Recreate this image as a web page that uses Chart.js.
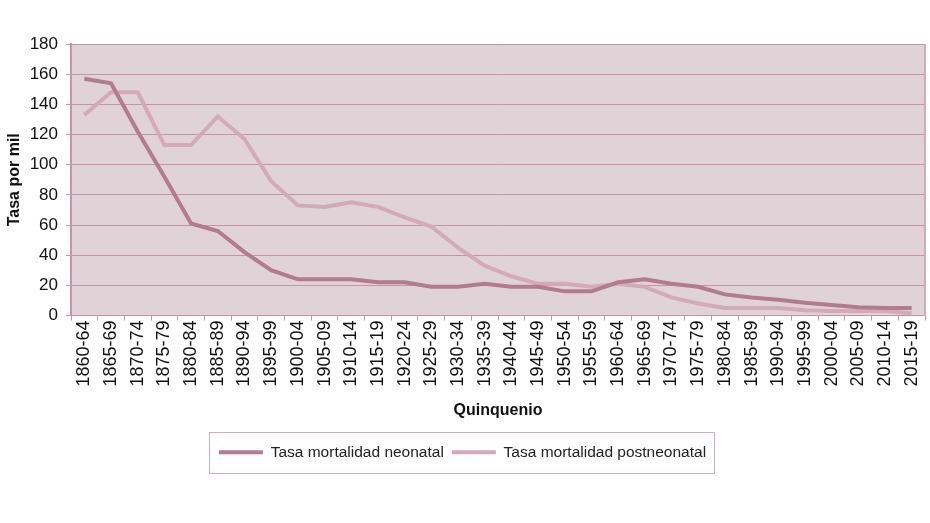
<!DOCTYPE html>
<html>
<head>
<meta charset="utf-8">
<script src="https://cdn.jsdelivr.net/npm/chart.js@4.4.0/dist/chart.umd.min.js"></script>
<style>
  html, body { margin: 0; padding: 0; background: #fff; }
  #wrap { width: 930px; height: 523px; }
</style>
</head>
<body>
<div id="wrap"><canvas id="chart"></canvas></div>
<script>
const quinquenios = [
    "1860-64", "1865-69", "1870-74", "1875-79", "1880-84", "1885-89",
    "1890-94", "1895-99", "1900-04", "1905-09", "1910-14", "1915-19",
    "1920-24", "1925-29", "1930-34", "1935-39", "1940-44", "1945-49",
    "1950-54", "1955-59", "1960-64", "1965-69", "1970-74", "1975-79",
    "1980-84", "1985-89", "1990-94", "1995-99", "2000-04", "2005-09",
    "2010-14", "2015-19"
];

const neonatal = [
    157, 154, 122, 92, 61, 56, 42, 30, 24, 24, 24, 22,
    22, 19, 19, 21, 19, 19, 16, 16, 22, 24, 21, 19,
    14, 12, 10.5, 8.5, 7, 5.5, 5, 5
];

const postneonatal = [
    133, 148, 148, 113, 113, 132, 117, 89, 73, 72, 75, 72,
    65, 59, 45, 33, 26, 21, 21, 19, 21, 19, 12, 8,
    5, 5, 5, 3.5, 3, 3, 3, 1.5
];

const yTicks = [0, 20, 40, 60, 80, 100, 120, 140, 160, 180];

const darkLine = "#b27b8e";
const lightLine = "#d5aab7";
const gridColor = "#c993a6";

// plot background + right border
const plotBackground = {
    id: "plotBackground",
    beforeDraw: (chart) => {
        const ctx = chart.ctx;
        const a = chart.chartArea;
        ctx.save();
        ctx.fillStyle = "#dfd3d7";
        ctx.fillRect(a.left, a.top, a.right - a.left, a.bottom - a.top);
        ctx.restore();
    },
    afterDraw: (chart) => {
        const ctx = chart.ctx;
        const a = chart.chartArea;
        ctx.save();
        ctx.strokeStyle = "#d2a9b6";
        ctx.lineWidth = 2;
        ctx.beginPath();
        ctx.moveTo(a.right, a.top);
        ctx.lineTo(a.right, a.bottom);
        ctx.stroke();
        ctx.restore();
    },
};

// box around the legend
const legendBorder = {
    id: "legendBorder",
    afterDraw: (chart) => {
        const boxes = chart.legend.legendHitBoxes;
        if (!boxes || !boxes.length) return;
        let minX = Infinity, maxX = -Infinity, minY = Infinity, maxY = -Infinity;
        boxes.forEach((b) => {
            minX = Math.min(minX, b.left);
            maxX = Math.max(maxX, b.left + b.width);
            minY = Math.min(minY, b.top);
            maxY = Math.max(maxY, b.top + b.height);
        });
        const ctx = chart.ctx;
        ctx.save();
        ctx.strokeStyle = "#d4afbb";
        ctx.lineWidth = 1;
        ctx.strokeRect(Math.round(minX - 10) + 0.5, Math.round(minY - 13) + 0.5,
            Math.round(maxX - minX + 18), Math.round(maxY - minY + 25));
        ctx.restore();
    },
};

new Chart(document.getElementById("chart").getContext("2d"), {
    type: "line",
    data: {
        labels: quinquenios,
        datasets: [
            {
                label: "Tasa mortalidad neonatal",
                data: neonatal,
                borderColor: darkLine,
                backgroundColor: darkLine,
                borderWidth: 4,
                pointRadius: 0,
                tension: 0,
            },
            {
                label: "Tasa mortalidad postneonatal",
                data: postneonatal,
                borderColor: lightLine,
                backgroundColor: lightLine,
                borderWidth: 4,
                pointRadius: 0,
                tension: 0,
            },
        ],
    },
    options: {
        responsive: true,
        maintainAspectRatio: false,
        animation: false,
        layout: {
            padding: { top: 44, right: 5, bottom: 53, left: 0 },
        },
        plugins: {
            tooltip: { enabled: false },
            legend: {
                display: true,
                position: "bottom",
                labels: {
                    color: "#222",
                    font: { family: "'Liberation Sans', Arial, sans-serif", size: 15.5 },
                    boxWidth: 44,
                    boxHeight: 4,
                    padding: 8,
                    generateLabels: (chart) => chart.data.datasets.map((ds, i) => ({
                        text: ds.label,
                        fillStyle: ds.borderColor,
                        strokeStyle: ds.borderColor,
                        lineWidth: 0,
                        datasetIndex: i,
                        fontColor: "#222",
                    })),
                },
            },
        },
        scales: {
            x: {
                offset: true,
                afterFit: (scale) => {
                    scale.height = 121;
                    scale.paddingLeft = 0;
                    scale.paddingRight = 0;
                },
                border: { display: true, color: gridColor, width: 1 },
                grid: {
                    display: true,
                    drawOnChartArea: false,
                    drawTicks: true,
                    tickLength: 5,
                    color: gridColor,
                    offset: true,
                },
                ticks: {
                    color: "#111",
                    font: { family: "'Liberation Sans', Arial, sans-serif", size: 18 },
                    maxRotation: 90,
                    minRotation: 90,
                    autoSkip: false,
                    padding: 0,
                },
                title: {
                    display: true,
                    text: "Quinquenio",
                    color: "#111",
                    font: { family: "'Liberation Sans', Arial, sans-serif", size: 16, weight: "bold" },
                    padding: { top: 6, bottom: 16 },
                },
            },
            y: {
                min: 0,
                max: 180,
                afterFit: (scale) => { scale.width = 71; },
                afterBuildTicks: (scale) => {
                    scale.ticks = yTicks.map((v) => ({ value: v }));
                },
                border: { display: true, color: gridColor, width: 2 },
                grid: {
                    color: gridColor,
                    lineWidth: 1,
                    tickLength: 5,
                    drawTicks: true,
                },
                ticks: {
                    color: "#111",
                    font: { family: "'Liberation Sans', Arial, sans-serif", size: 17 },
                    padding: 8,
                },
                title: {
                    display: true,
                    text: "Tasa por mil",
                    color: "#111",
                    font: { family: "'Liberation Sans', Arial, sans-serif", size: 16, weight: "bold" },
                    padding: { top: 5, bottom: 0 },
                },
            },
        },
    },
    plugins: [plotBackground, legendBorder],
});
</script>
</body>
</html>
